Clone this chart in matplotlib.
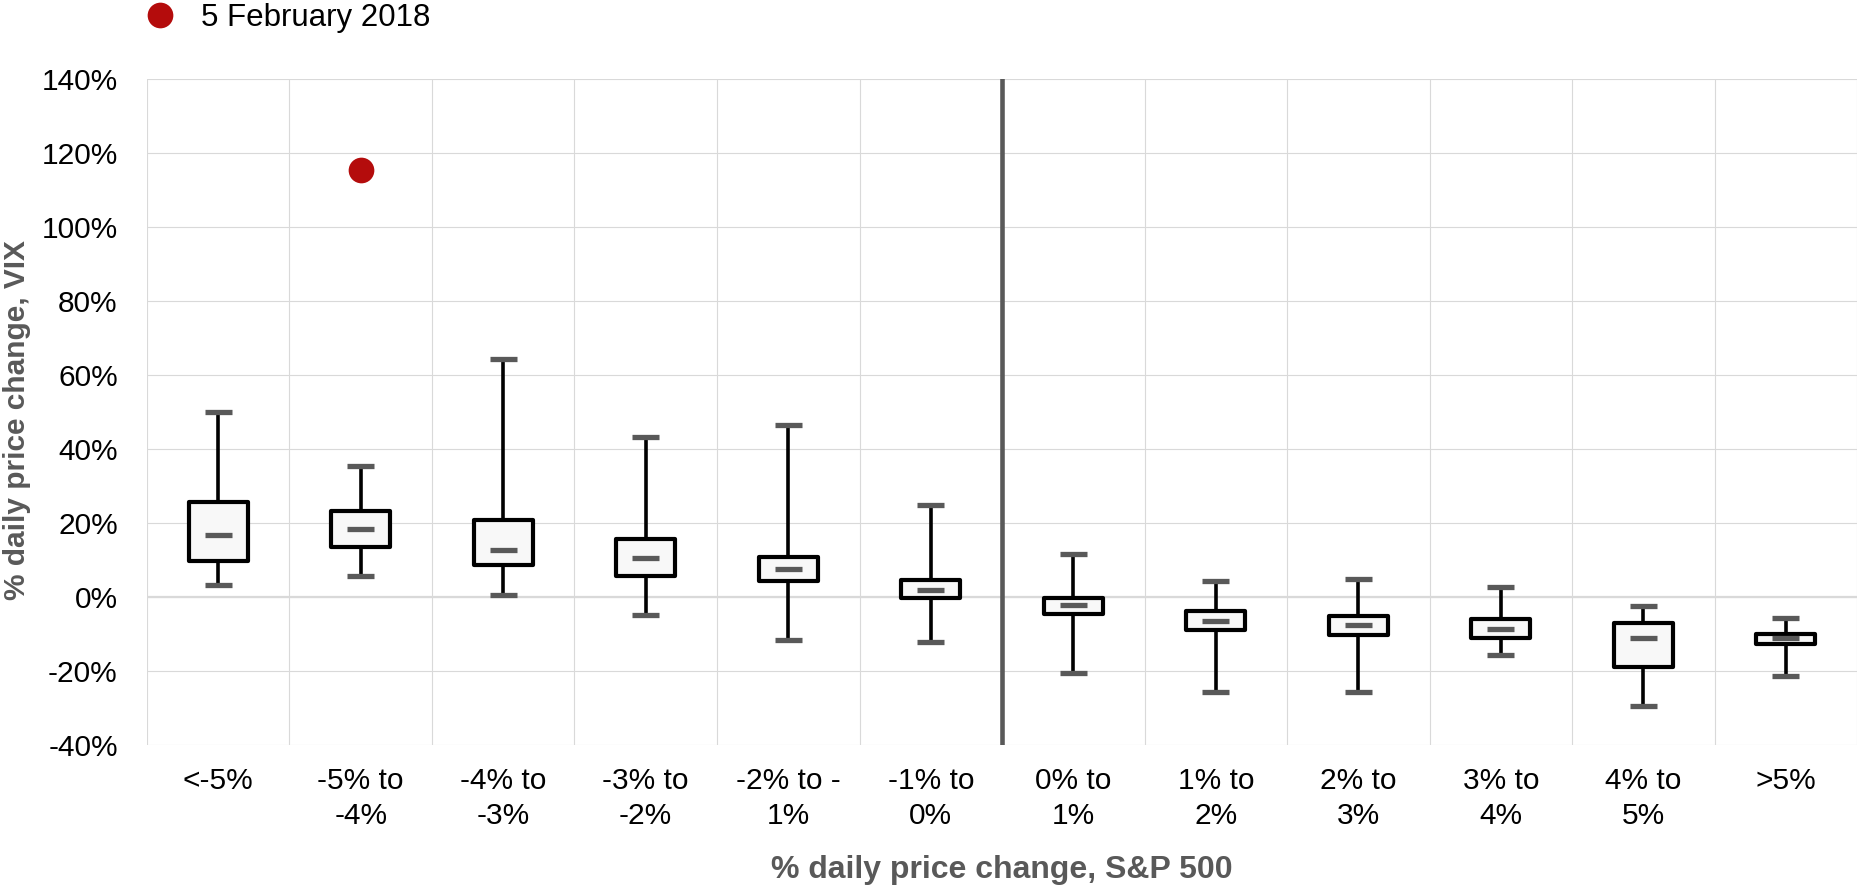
import matplotlib.pyplot as plt
from matplotlib.ticker import FuncFormatter, MultipleLocator

plt.rcParams['font.family'] = ['Liberation Sans', 'DejaVu Sans']

# S&P 500 daily change buckets and VIX daily change distribution (%)
cats = ['<-5%', '-5% to\n-4%', '-4% to\n-3%', '-3% to\n-2%', '-2% to -\n1%', '-1% to\n0%',
        '0% to\n1%', '1% to\n2%', '2% to\n3%', '3% to\n4%', '4% to\n5%', '>5%']
whis_hi = [50.1, 35.5, 64.3, 43.2, 46.5, 24.9, 11.5, 4.4, 5.0, 2.7, -2.3, -5.8]
q3 = [25.8, 23.2, 20.8, 15.7, 10.9, 4.6, -0.2, -3.8, -5.1, -5.9, -7.0, -10.0]
med = [16.8, 18.5, 12.6, 10.5, 7.5, 2.0, -2.1, -6.4, -7.6, -8.6, -11.0, -11.0]
q1 = [9.7, 13.4, 8.6, 5.8, 4.2, -0.4, -4.6, -9.0, -10.2, -11.1, -18.9, -12.8]
whis_lo = [3.2, 5.6, 0.5, -4.9, -11.5, -12.1, -20.5, -25.8, -25.8, -15.6, -29.4, -21.3]

# 5 February 2018
event_cat = 1
event_val = 115.5

pos = list(range(1, len(cats) + 1))
stats = []
for i in range(len(cats)):
    stats.append(dict(med=med[i], q1=q1[i], q3=q3[i], whislo=whis_lo[i],
                      whishi=whis_hi[i], fliers=[]))

fig = plt.figure(figsize=(18.58, 8.85), dpi=100)
ax = fig.add_axes([0.0791, 0.1582, 0.9204, 0.7525])

gray = '#595959'
grid = '#d9d9d9'

# grid: horizontal at ticks, vertical at category boundaries
for y in range(-40, 141, 20):
    ax.axhline(y, color=grid, lw=0.8, zorder=0)
ax.axhline(0, color=grid, lw=1.6, zorder=0)
for b in range(len(cats) + 1):
    ax.axvline(b + 0.5, color=grid, lw=0.8, zorder=0)

ax.axvline(6.5, color=gray, lw=3.3, zorder=1)

ax.bxp(stats, positions=pos, widths=0.414, capwidths=0.187, patch_artist=True,
       showfliers=False,
       boxprops=dict(facecolor='#f8f8f8', edgecolor='black', lw=3.0, joinstyle='round'),
       whiskerprops=dict(color='black', lw=2.6),
       capprops=dict(color=gray, lw=3.8, solid_capstyle='butt'),
       medianprops=dict(lw=0), zorder=3)
ax.hlines(med, [p - 0.0935 for p in pos], [p + 0.0935 for p in pos],
          color=gray, lw=3.8, zorder=4)

ax.plot([pos[event_cat]], [event_val], 'o', color='#b40c0c', ms=18.5, mec='none',
        label='5 February 2018', zorder=5)

ax.set_xlim(0.5, 12.5)
ax.set_ylim(-40, 140)
ax.yaxis.set_major_locator(MultipleLocator(20))
ax.yaxis.set_major_formatter(FuncFormatter(lambda v, p: f'{v:.0f}%'))
ax.set_xticks(pos)
ax.set_xticklabels(cats, fontsize=21.5, linespacing=1.3)
ax.tick_params(axis='y', labelsize=21.5, length=0, pad=21)
ax.tick_params(axis='x', length=0, pad=16)
for s in ax.spines.values():
    s.set_visible(False)

ax.set_xlabel('% daily price change, S&P 500', fontsize=23, fontweight='bold',
              color=gray, labelpad=18)
ax.set_ylabel('% daily price change, VIX', fontsize=21.5, fontweight='bold',
              color=gray)
ax.yaxis.set_label_coords(-0.068, 0.488)

fig.legend(loc='center left', bbox_to_anchor=(0.0759, 0.980), frameon=False,
           fontsize=22.5, handlelength=1.2, handletextpad=0.72, borderpad=0,
           borderaxespad=0)

fig.savefig('out.png', dpi=100)
